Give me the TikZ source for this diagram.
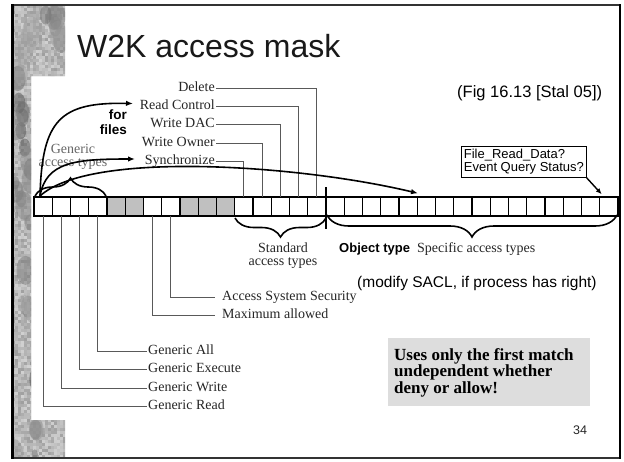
\documentclass[tikz,border=0pt]{standalone}
\usepackage{fontspec}
\setmainfont{Liberation Serif}
\newfontfamily\arialf{Liberation Sans}
\usetikzlibrary{arrows.meta,decorations.pathreplacing}
\definecolor{resgray}{RGB}{192,192,192}
\definecolor{notegray}{RGB}{221,221,221}
\begin{document}
\begin{tikzpicture}[x=1pt,y=-1pt,
  cellw/.style={draw=black, line width=1.2pt, minimum width=18.25pt, minimum height=18.4pt, inner sep=0pt, outer sep=0pt, fill=white},
  cellg/.style={cellw, fill=resgray},
  lbl/.style={inner sep=0pt, font=\fontsize{14}{14}\selectfont, text height=9pt, text depth=3pt, text=black!85},
  txt/.style={inner sep=0pt, font=\fontsize{14}{14}\selectfont, text=black!85},
  leader/.style={draw=black!65, line width=0.9pt},
  hand/.style={line width=1.6pt, draw=black},
  arr/.style={hand, -{Latex[length=7pt,width=5.5pt]}},
  brc/.style={hand, decorate, decoration={brace, amplitude=#1}}
]
\useasboundingbox (0,0) rectangle (624,461);
\fill[white] (0,0) rectangle (624,461);

% textured left strip
\begin{scope}
\clip (12,5) -- (65,5) -- (65,76) -- (31,76) -- (31,420) -- (65,420) -- (65,458) -- (12,458) -- cycle;
\fill[black!28] (12,5) rectangle (65,458);
\pgfmathsetseed{7}
\foreach \yy in {5,8,...,457}{
  \foreach \xx in {12,15,...,64}{
    \pgfmathsetmacro\g{18+20*rnd}
    \fill[black!\g] (\xx,\yy) rectangle ++(3,3);
  }
}
\foreach \k in {1,...,55}{
  \pgfmathsetmacro\px{14+50*rnd}
  \pgfmathsetmacro\py{8+448*rnd}
  \pgfmathsetmacro\rr{3+7*rnd}
  \pgfmathsetmacro\gg{35+35*rnd}
  \fill[black!\gg, opacity=0.5] (\px,\py) ellipse [x radius=\rr, y radius=1.6*\rr];
}
\end{scope}

% slide frame
\draw[black!80, line width=1.2pt] (12,5) rectangle (620,458);
\draw[line width=3pt] (12,4.4) -- (12,458.6);
\draw[line width=2.5pt] (620,4.4) -- (620,458.6);

% title and reference
\node[anchor=base west, inner sep=0pt, font=\arialf\fontsize{32}{32}\selectfont, text=black!90] (title) at (77,57.5) {W2K access mask};
\node[anchor=base west, inner sep=0pt, font=\arialf\fontsize{16.5}{16.5}\selectfont] (fig) at (457,97.5) {(Fig 16.13 [Stal 05])};

% the mask bar
\foreach \i in {0,1,2,3,6,7,11,12,...,31}
  \node[cellw] (b\i) at ({34+18.25*\i+9.125},206.5) {};
\foreach \i in {4,5,8,9,10}
  \node[cellg] (b\i) at ({34+18.25*\i+9.125},206.5) {};
\draw[line width=2pt] (b0.north west) rectangle (b31.south east);

% standard access labels (above)
\node[lbl, anchor=east] (dl) at (215,88.5) {Delete};
\node[lbl, anchor=east] (rc) at (215,106.5) {Read Control};
\node[lbl, anchor=east] (wd) at (215,124.5) {Write DAC};
\node[lbl, anchor=east] (wo) at (215,143) {Write Owner};
\node[lbl, anchor=east] (sy) at (215,161.5) {Synchronize};
\draw[leader] ([xshift=1pt]dl.east) -| (b15.north);
\draw[leader] ([xshift=1pt]rc.east) -| (b14.north);
\draw[leader] ([xshift=1pt]wd.east) -| (b13.north);
\draw[leader] ([xshift=1pt]wo.east) -| (b12.north);
\draw[leader] ([xshift=1pt]sy.east) -| (b11.north);

% labels below
\node[lbl, anchor=west] (ass) at (222,297.3) {Access System Security};
\node[lbl, anchor=west] (ma) at (222,315) {Maximum allowed};
\node[lbl, anchor=west] (ga) at (148,351) {Generic All};
\node[lbl, anchor=west] (ge) at (148,369.5) {Generic Execute};
\node[lbl, anchor=west] (gw) at (148,388) {Generic Write};
\node[lbl, anchor=west] (gr) at (148,406.5) {Generic Read};
\draw[leader] (b7.south) |- ([xshift=-7pt]ass.west);
\draw[leader] (b6.south) |- ([xshift=-7pt]ma.west);
\draw[leader] (b3.south) |- ([xshift=-1.5pt]ga.west);
\draw[leader] (b2.south) |- ([xshift=-1.5pt]ge.west);
\draw[leader] (b1.south) |- ([xshift=-1.5pt]gw.west);
\draw[leader] (b0.south) |- ([xshift=-1.5pt]gr.west);

% generic access types, hand annotations
\node[txt, anchor=base, text=black!60] (gen1) at (73,153) {Generic};
\node[txt, anchor=base, text=black!60] (gen2) at (73,166) {access types};
\node[anchor=base east, inner sep=0pt, font=\arialf\bfseries\fontsize{13.5}{13.5}\selectfont] (for1) at (127,119) {for};
\node[anchor=base east, inner sep=0pt, font=\arialf\bfseries\fontsize{13.5}{13.5}\selectfont] (for2) at (127,134) {files};

\coordinate (g0) at (40,196);
\coordinate (trc) at (133,103.5);
\coordinate (tsy) at (135,159);
\draw[arr] (g0) .. controls (42,120) and (60,102) .. (trc);
\draw[arr] (g0) .. controls (46,162) and (75,159) .. (tsy);
\draw[arr] (g0) .. controls (90,150) and (300,165) .. ([shift={(0.75pt,4pt)}]b21.north west);
\draw[brc=18pt] (35,196) -- (106,196);

% braces below
\draw[line width=2pt] ([yshift=10.3pt]b15.north east) -- ([yshift=-13.3pt]b15.south east);
\draw[brc=19pt] (326,218) -- (235,218);
\draw[brc=22pt] (617,215) -- (327,215);

\node[txt, anchor=base] (st1) at (283,252.5) {Standard};
\node[txt, anchor=base] (st2) at (283,265.5) {access types};
\node[anchor=base west, inner sep=0pt, font=\arialf\bfseries\fontsize{13}{13}\selectfont] (obj) at (339,252) {Object type};
\node[txt, anchor=base west] (spec) at (417,252) {Specific access types};

\node[anchor=base west, inner sep=0pt, font=\arialf\fontsize{15.5}{15.5}\selectfont] (mod) at (357,287) {(modify SACL, if process has right)};

% specific rights box
\node[draw=black, line width=0.8pt, fill=white, anchor=north west, align=left, inner xsep=2.5pt, inner ysep=3pt, font=\arialf\fontsize{13}{13}\selectfont] (fb) at (461,146) {File\_Read\_Data?\\Event Query Status?};
\draw[line width=1.4pt, -{Latex[length=6pt,width=5pt]}] (fb.south east) -- ([shift={(2pt,3pt)}]b31.north west);

% note box
\node[fill=notegray, anchor=north west, minimum width=202pt, minimum height=68pt, inner sep=0pt] (note) at (388,338) {};
\node[anchor=base west, inner sep=0pt, font=\bfseries\fontsize{17}{17}\selectfont] (n1) at (394,360) {Uses only the first match};
\node[anchor=base west, inner sep=0pt, font=\bfseries\fontsize{17}{17}\selectfont] (n2) at (394,376.5) {undependent whether};
\node[anchor=base west, inner sep=0pt, font=\bfseries\fontsize{17}{17}\selectfont] (n3) at (394,393) {deny or allow!};

\node[anchor=base west, inner sep=0pt, font=\arialf\fontsize{12.5}{12.5}\selectfont, text=black!85] (pg) at (573,434) {34};
\end{tikzpicture}
\end{document}
